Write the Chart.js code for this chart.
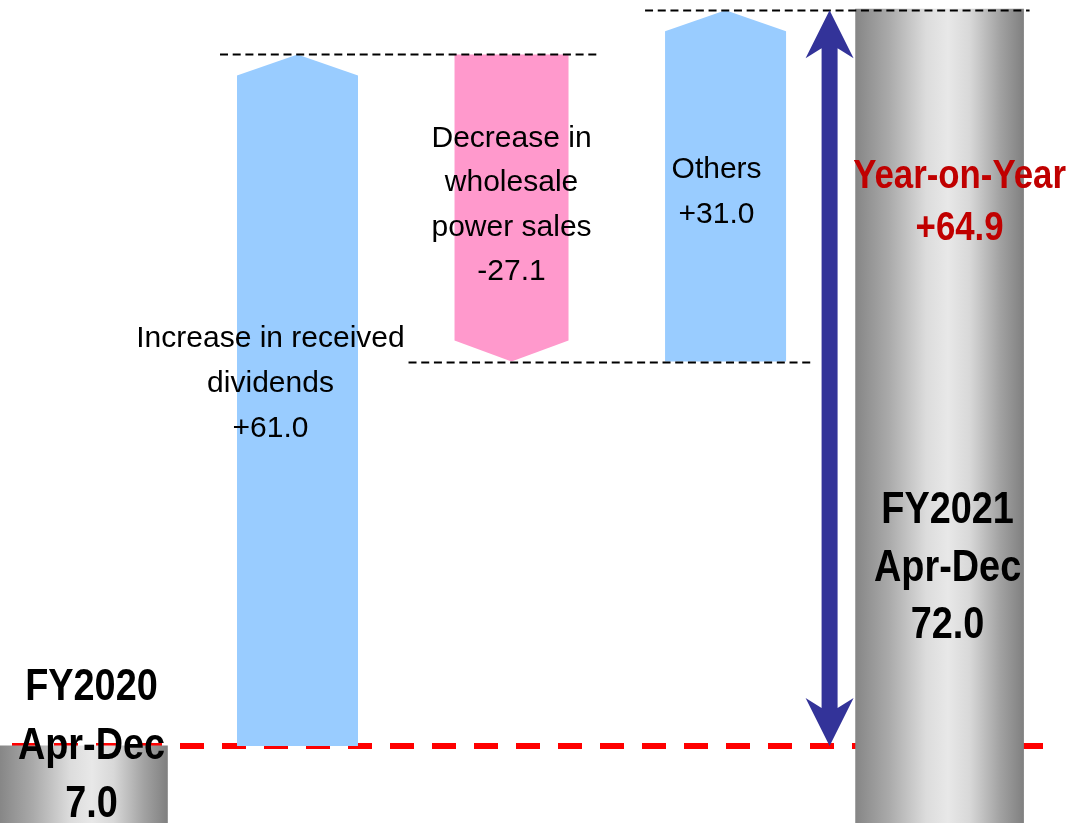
<!DOCTYPE html>
<html>
<head>
<meta charset="utf-8">
<script src="https://cdn.jsdelivr.net/npm/chart.js@4"></script>
<style>
  html, body { margin: 0; padding: 0; background: #fff; }
  #wrap { width: 1068px; height: 823px; position: relative; }
</style>
</head>
<body>
<div id="wrap"><canvas id="bridge"></canvas></div>
<script>
// Apr-Dec bridge: FY2020 total, the three drivers, FY2021 total
var categories = ['FY2020 Apr-Dec', 'Increase in received dividends', 'Decrease in wholesale power sales', 'Others', 'FY2021 Apr-Dec'];
var totals  = [7.0, null, null, null, 72.0];
var changes = [null, 61.0, -27.1, 31.0, null];
var yearOnYear = 64.9;

var totalNames  = [['FY2020', 'Apr-Dec'], null, null, null, ['FY2021', 'Apr-Dec']];
var changeNames = [null, ['Increase in received', 'dividends'], ['Decrease in', 'wholesale', 'power sales'], ['Others'], null];

function signed(v) {
  return (v > 0 ? '+' : '') + v.toFixed(1);
}

// floating bars: totals from zero, changes from the running level
var totalBars = [], upBars = [], downBars = [];
var levels = [];
var level = 0;
categories.forEach(function (c, i) {
  if (totals[i] != null) {
    totalBars.push({ x: i, y: [0, totals[i]] });
    level = totals[i];
  } else {
    var next = level + changes[i];
    (changes[i] >= 0 ? upBars : downBars).push({ x: i, y: [level, next] });
    level = next;
  }
  levels.push(level);
});

// grey "cylinder" fill for the two totals
function cylinder(ctx) {
  var chart = ctx.chart;
  if (!chart.chartArea || ctx.raw == null) return '#b0b0b0';
  var cx = chart.scales.x.getPixelForValue(ctx.raw.x);
  var half = ctx.dataset.barThickness / 2;
  var g = chart.ctx.createLinearGradient(cx - half, 0, cx + half, 0);
  g.addColorStop(0, '#868686');
  g.addColorStop(0.2, '#aaaaaa');
  g.addColorStop(0.42, '#dcdcdc');
  g.addColorStop(0.55, '#e8e8e8');
  g.addColorStop(0.68, '#d8d8d8');
  g.addColorStop(0.86, '#a2a2a2');
  g.addColorStop(1, '#808080');
  return g;
}

function barAt(chart, i) {
  var found = null;
  chart.data.datasets.forEach(function (ds, d) {
    ds.data.forEach(function (p, j) {
      if (p.x === i) found = chart.getDatasetMeta(d).data[j];
    });
  });
  return found;
}

function drawLines(c, lines, x, y, lh, font, color, squeeze) {
  c.save();
  c.font = font;
  c.fillStyle = color;
  c.textAlign = 'center';
  c.textBaseline = 'alphabetic';
  lines.forEach(function (t, k) {
    c.save();
    c.translate(x, y + k * lh);
    c.scale(squeeze, 1);
    c.fillText(t, 0, 0);
    c.restore();
  });
  c.restore();
}

var REG = '30px "Liberation Sans", Arial, sans-serif';
var BOLD = 'bold 44px "Liberation Sans", Arial, sans-serif';
var BOLD_RED = 'bold 40px "Liberation Sans", Arial, sans-serif';

// text placement: offset from bar centre, first baseline, line height
var labelLayout = [
  { dx: 8,   y: 700, lh: 58.5 },
  { dx: -27, y: 347, lh: 45 },
  { dx: 0,   y: 147, lh: 44.4 },
  { dx: -9,  y: 178, lh: 45 },
  { dx: 8,   y: 523, lh: 57.5 }
];
// connector extents past the left / right bar edges
var connectorExt = [null, [17, 29], [46, 28], [20, 6]];

var bridgeDecor = {
  id: 'bridgeDecor',
  beforeDatasetsDraw: function (chart) {
    var c = chart.ctx, y = chart.scales.y.getPixelForValue(totals[0]);
    c.save();
    c.strokeStyle = '#ff0000';
    c.lineWidth = 6;
    c.setLineDash([24, 18]);
    c.beginPath();
    c.moveTo(chart.chartArea.left + 12, y);
    c.lineTo(chart.chartArea.right - 25, y);
    c.stroke();
    c.restore();
  },
  beforeDatasetDraw: function (chart, args) {
    var ds = chart.data.datasets[args.index];
    if (!ds.pointing) return;
    var c = chart.ctx, head = 21;
    c.save();
    c.fillStyle = ds.backgroundColor;
    args.meta.data.forEach(function (bar) {
      var l = bar.x - bar.width / 2, r = bar.x + bar.width / 2;
      var top = Math.min(bar.y, bar.base), bot = Math.max(bar.y, bar.base);
      c.beginPath();
      if (ds.pointing === 'up') {
        c.moveTo(l, bot); c.lineTo(l, top + head); c.lineTo(bar.x, top);
        c.lineTo(r, top + head); c.lineTo(r, bot);
      } else {
        c.moveTo(l, top); c.lineTo(r, top); c.lineTo(r, bot - head);
        c.lineTo(bar.x, bot); c.lineTo(l, bot - head);
      }
      c.closePath();
      c.fill();
    });
    c.restore();
    return false;
  },
  afterDatasetsDraw: function (chart) {
    var c = chart.ctx, ys = chart.scales.y;

    // dashed connectors between consecutive bars
    c.save();
    c.strokeStyle = '#000';
    c.lineWidth = 2;
    c.setLineDash([8, 4.7]);
    for (var i = 1; i < categories.length - 1; i++) {
      var a = barAt(chart, i), b = barAt(chart, i + 1);
      var y = Math.round(ys.getPixelForValue(levels[i])) + 0.5;
      c.beginPath();
      c.moveTo(a.x - a.width / 2 - connectorExt[i][0], y);
      c.lineTo(b.x + b.width / 2 + connectorExt[i][1], y);
      c.stroke();
    }
    c.restore();

    // year-on-year double arrow
    var last = barAt(chart, categories.length - 1);
    var ax = last.x - last.width / 2 - 26;
    var t = ys.getPixelForValue(totals[0] + yearOnYear);
    var bt = ys.getPixelForValue(totals[0]);
    c.save();
    c.fillStyle = '#333399';
    c.beginPath();
    c.moveTo(ax, t);
    c.lineTo(ax + 24, t + 48); c.lineTo(ax + 8, t + 38);
    c.lineTo(ax + 8, bt - 38); c.lineTo(ax + 24, bt - 48);
    c.lineTo(ax, bt);
    c.lineTo(ax - 24, bt - 48); c.lineTo(ax - 8, bt - 38);
    c.lineTo(ax - 8, t + 38); c.lineTo(ax - 24, t + 48);
    c.closePath();
    c.fill();
    c.restore();

    // bar texts
    categories.forEach(function (cat, i) {
      var bar = barAt(chart, i), L = labelLayout[i];
      if (totals[i] != null) {
        drawLines(c, totalNames[i].concat([totals[i].toFixed(1)]), bar.x + L.dx, L.y, L.lh, BOLD, '#000', 0.86);
      } else {
        drawLines(c, changeNames[i].concat([signed(changes[i])]), bar.x + L.dx, L.y, L.lh, REG, '#000', 1);
      }
    });
    drawLines(c, ['Year-on-Year', signed(yearOnYear)], last.x + 20, 188, 52, BOLD_RED, '#c00000', 0.87);
  }
};

var bridgeChart = new Chart(document.getElementById('bridge'), {
  type: 'bar',
  data: {
    datasets: [
      { label: 'Total', data: totalBars, backgroundColor: cylinder, barThickness: 168, borderWidth: 0 },
      { label: 'Increase', data: upBars, backgroundColor: '#99ccff', barThickness: 121, pointing: 'up' },
      { label: 'Decrease', data: downBars, backgroundColor: '#ff99cc', barThickness: 114, pointing: 'down' }
    ]
  },
  options: {
    responsive: true,
    maintainAspectRatio: false,
    animation: false,
    events: [],
    grouped: false,
    layout: { padding: 0 },
    scales: {
      x: { type: 'linear', min: -0.39, max: 4.6, offset: false, display: false },
      y: { type: 'linear', min: 0.2, max: 72.8, display: false }
    },
    plugins: {
      legend: { display: false },
      tooltip: { enabled: false }
    }
  },
  plugins: [bridgeDecor]
});
</script>
</body>
</html>
